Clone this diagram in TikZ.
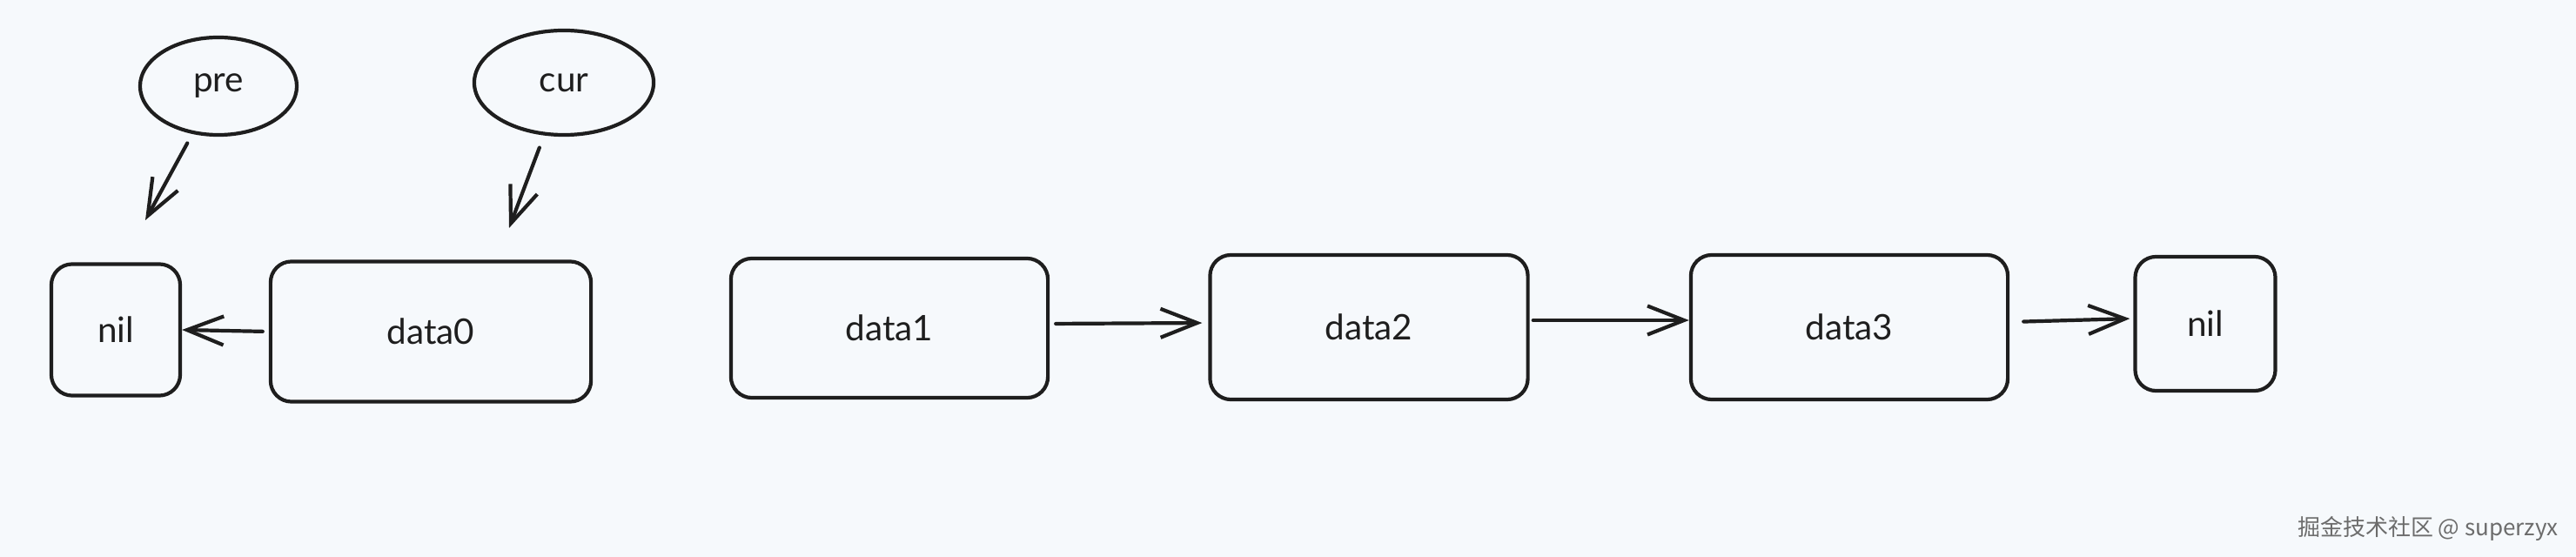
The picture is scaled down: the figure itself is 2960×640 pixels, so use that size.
\documentclass[tikz,border=0pt]{standalone}
\usepackage{fontspec}
\setmainfont{Lato}
\newfontfamily\cjk{Noto Sans CJK SC}
\usetikzlibrary{shapes.geometric,arrows.meta}
\definecolor{bg}{RGB}{246,249,252}
\definecolor{ink}{RGB}{30,30,30}
\begin{document}
\begin{tikzpicture}[x=0.01cm,y=-0.01cm,
  lbl/.style={font=\fontsize{11.5}{14}\selectfont, text=ink},
  box/.style={lbl, draw=ink, line width=0.042cm, rounded corners=0.24cm, inner sep=0pt},
  oval/.style={lbl, ellipse, draw=ink, line width=0.042cm, inner sep=0pt},
  link/.style={draw=ink, line width=0.042cm, line cap=round,
    -{Straight Barb[length=0.42cm,width=0.33cm,line width=0.042cm]}}]
\fill[bg] (0,0) rectangle (2960,640);
\useasboundingbox (0,0) rectangle (2960,640);
% boxes
\node[box, minimum width=1.48cm, minimum height=1.51cm] (nilA) at (133,379) {nil};
\node[box, minimum width=3.68cm, minimum height=1.61cm] (d0) at (495,381) {data0};
\node[box, minimum width=3.64cm, minimum height=1.60cm] (d1) at (1022,377) {data1};
\node[box, minimum width=3.65cm, minimum height=1.66cm] (d2) at (1573,376) {data2};
\node[box, minimum width=3.64cm, minimum height=1.66cm] (d3) at (2125,376) {data3};
\node[box, minimum width=1.61cm, minimum height=1.54cm] (nilB) at (2534,372) {nil};
% ovals
\node[oval, minimum width=1.80cm, minimum height=1.12cm] (pre) at (251,99) {pre};
\node[oval, minimum width=2.06cm, minimum height=1.20cm] (cur) at (648,95) {cur};
\coordinate (pretip) at (167,253);
\coordinate (curtip) at (585,262);
% connectors
\draw[link, shorten <=0.12cm] (pre) -- (pretip);
\draw[link, shorten <=0.15cm] (cur) -- (curtip);
\draw[link, shorten <=0.07cm] (d0.west) -- (nilA.east);
\draw[link, shorten <=0.07cm, shorten >=0.07cm] ([yshift=0.05cm]d1.east) -- ([yshift=0.05cm]d2.west);
\draw[link, shorten <=0.04cm] ([yshift=0.08cm]d2.east) -- ([yshift=0.08cm]d3.west);
\draw[link, shorten <=0.16cm, shorten >=0.04cm] ([yshift=0.06cm]d3.east) -- ([yshift=0.06cm]nilB.west);
% watermark
\node[anchor=east, inner sep=0pt, text=gray!85!black, font=\cjk\fontsize{7.4}{9}\selectfont] (wm) at (2940,607) {掘金技术社区 @ superzyx};
\end{tikzpicture}
\end{document}
